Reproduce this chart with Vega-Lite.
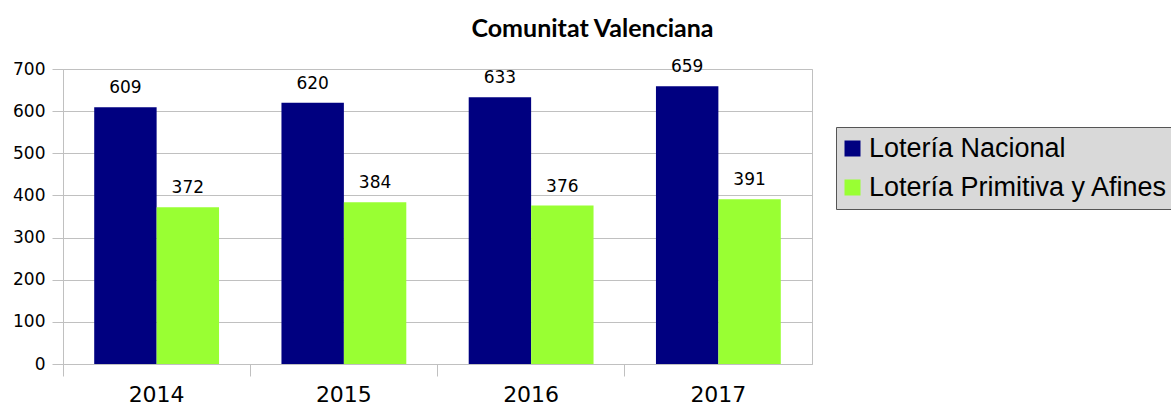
{
  "$schema": "https://vega.github.io/schema/vega-lite/v6.json",
  "autosize": {"type": "none"},
  "padding": {"left": 63, "top": 69, "right": 359, "bottom": 41},
  "width": 749,
  "height": 295,
  "background": "white",
  "title": {
    "text": "Comunitat Valenciana",
    "font": "Lato",
    "fontSize": 25,
    "fontWeight": "bold",
    "color": "black",
    "anchor": "middle",
    "dx": 155,
    "offset": 16
  },
  "data": {
    "values": [
      {"year": "2014", "serie": "Lotería Nacional", "value": 609},
      {"year": "2014", "serie": "Lotería Primitiva y Afines", "value": 372},
      {"year": "2015", "serie": "Lotería Nacional", "value": 620},
      {"year": "2015", "serie": "Lotería Primitiva y Afines", "value": 384},
      {"year": "2016", "serie": "Lotería Nacional", "value": 633},
      {"year": "2016", "serie": "Lotería Primitiva y Afines", "value": 376},
      {"year": "2017", "serie": "Lotería Nacional", "value": 659},
      {"year": "2017", "serie": "Lotería Primitiva y Afines", "value": 391}
    ]
  },
  "config": {
    "view": {"stroke": "#c0c0c0", "strokeWidth": 1}
  },
  "encoding": {
    "x": {
      "field": "year",
      "type": "nominal",
      "scale": {"paddingInner": 0, "paddingOuter": 0},
      "axis": {
        "title": null,
        "labelAngle": 0,
        "bandPosition": 0,
        "tickSize": 12,
        "tickColor": "#c0c0c0",
        "domainColor": "#c0c0c0",
        "labelFont": "DejaVu Sans",
        "labelFontSize": 22,
        "labelColor": "black",
        "labelPadding": 8,
        "grid": false
      }
    },
    "xOffset": {
      "field": "serie",
      "type": "nominal",
      "scale": {"domain": ["Lotería Nacional", "Lotería Primitiva y Afines"], "paddingInner": 0, "paddingOuter": 0.5}
    },
    "y": {
      "field": "value",
      "type": "quantitative",
      "scale": {"domain": [0, 700], "nice": false},
      "axis": {
        "title": null,
        "values": [0, 100, 200, 300, 400, 500, 600, 700],
        "grid": true,
        "gridColor": "#c0c0c0",
        "tickColor": "#c0c0c0",
        "tickSize": 11,
        "domainColor": "#c0c0c0",
        "labelFont": "DejaVu Sans",
        "labelFontSize": 17,
        "labelColor": "black",
        "labelPadding": 7
      }
    }
  },
  "layer": [
    {
      "mark": {"type": "bar"},
      "encoding": {
        "color": {
          "field": "serie",
          "type": "nominal",
          "scale": {"domain": ["Lotería Nacional", "Lotería Primitiva y Afines"], "range": ["#000080", "#99ff33"]},
          "legend": {
            "title": null,
            "orient": "none",
            "legendX": 773,
            "legendY": 58,
            "symbolType": "square",
            "symbolSize": 256,
            "symbolStrokeWidth": 0,
            "symbolOffset": -5,
            "labelFont": "Liberation Sans",
            "labelFontSize": 27,
            "labelColor": "black",
            "labelLimit": 0,
            "labelOffset": 3,
            "rowPadding": 11,
            "padding": 8,
            "fillColor": "#d9d9d9",
            "strokeColor": "#555555"
          }
        }
      }
    },
    {
      "mark": {"type": "text", "baseline": "bottom", "dy": -10, "font": "DejaVu Sans", "fontSize": 17, "color": "black"},
      "encoding": {
        "text": {"field": "value", "type": "quantitative"}
      }
    }
  ]
}
